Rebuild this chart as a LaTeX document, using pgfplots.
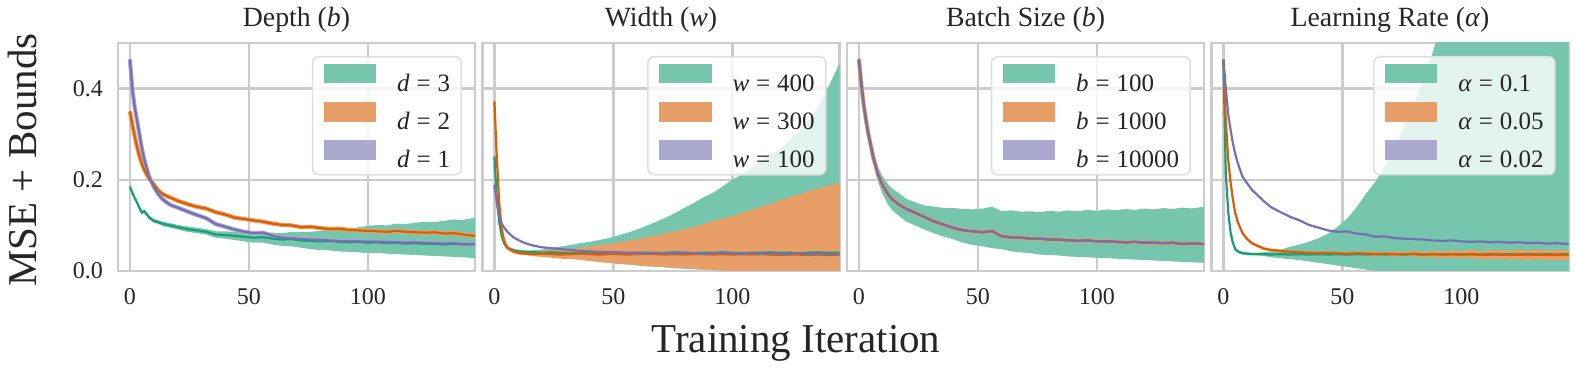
\documentclass[border=0pt]{standalone}
\usepackage{fontspec}
\setmainfont{Liberation Serif}
\usepackage{pgfplots}
\pgfplotsset{compat=1.18}
\usepackage{pgfplotstable}
\usepgfplotslibrary{fillbetween}

\definecolor{gline}{RGB}{27,158,119}
\definecolor{oline}{RGB}{217,95,2}
\definecolor{pline}{RGB}{117,112,179}
\definecolor{gfill}{RGB}{118,197,173}
\definecolor{ofill}{RGB}{232,159,103}
\definecolor{pfill}{RGB}{172,169,209}
\definecolor{txt}{RGB}{38,38,38}

% depth
\pgfplotstableread{
x g gl gh o p
0 0.185 0.181 0.189 0.350 0.464
1 0.172 0.168 0.176 0.322 0.400
2 0.160 0.156 0.164 0.296 0.360
3 0.150 0.146 0.154 0.272 0.330
4 0.138 0.134 0.142 0.252 0.300
5 0.128 0.124 0.132 0.236 0.270
6 0.131 0.127 0.135 0.222 0.245
8 0.118 0.114 0.122 0.203 0.208
10 0.110 0.106 0.114 0.190 0.185
12 0.107 0.103 0.111 0.176 0.168
14 0.103 0.098 0.108 0.168 0.156
17 0.100 0.095 0.105 0.161 0.145
20 0.096 0.091 0.101 0.154 0.139
24 0.092 0.086 0.098 0.147 0.131
28 0.089 0.083 0.095 0.141 0.123
32 0.086 0.080 0.092 0.137 0.116
36 0.080 0.073 0.087 0.129 0.103
40 0.079 0.071 0.087 0.124 0.097
44 0.077 0.068 0.086 0.117 0.091
48 0.075 0.065 0.085 0.114 0.086
52 0.073 0.062 0.084 0.111 0.083
56 0.074 0.062 0.086 0.108 0.084
60 0.071 0.058 0.084 0.104 0.077
64 0.069 0.055 0.083 0.101 0.073
68 0.070 0.054 0.086 0.100 0.072
72 0.067 0.051 0.085 0.096 0.070
76 0.066 0.048 0.086 0.097 0.069
80 0.065 0.046 0.088 0.094 0.068
84 0.066 0.045 0.091 0.092 0.067
88 0.064 0.043 0.090 0.093 0.066
92 0.063 0.042 0.092 0.090 0.066
96 0.064 0.041 0.096 0.089 0.065
100 0.062 0.039 0.099 0.088 0.065
104 0.063 0.040 0.101 0.087 0.064
108 0.061 0.038 0.100 0.086 0.064
112 0.062 0.037 0.104 0.088 0.063
116 0.060 0.036 0.103 0.086 0.062
120 0.061 0.035 0.106 0.085 0.063
124 0.059 0.034 0.108 0.084 0.062
128 0.060 0.033 0.107 0.085 0.061
132 0.058 0.032 0.110 0.082 0.060
136 0.060 0.031 0.113 0.083 0.061
140 0.058 0.030 0.112 0.080 0.059
145 0.059 0.028 0.117 0.077 0.059
}\tabA

% width
\pgfplotstableread{
x g gl gh o ol oh p
0 0.251 0.247 0.255 0.372 0.368 0.376 0.189
1 0.160 0.156 0.164 0.250 0.246 0.254 0.150
2 0.108 0.104 0.112 0.150 0.146 0.154 0.122
3 0.078 0.074 0.082 0.095 0.091 0.099 0.105
4 0.062 0.058 0.066 0.068 0.064 0.072 0.096
5 0.053 0.049 0.057 0.055 0.051 0.059 0.089
6 0.049 0.045 0.053 0.049 0.045 0.053 0.083
8 0.045 0.041 0.049 0.043 0.039 0.047 0.074
10 0.043 0.039 0.047 0.040 0.036 0.044 0.068
12 0.042 0.038 0.046 0.039 0.035 0.043 0.063
14 0.041 0.037 0.045 0.038 0.034 0.042 0.059
17 0.041 0.036 0.046 0.037 0.032 0.042 0.055
20 0.040 0.033 0.047 0.038 0.031 0.044 0.052
24 0.041 0.031 0.050 0.037 0.029 0.046 0.050
28 0.040 0.029 0.054 0.036 0.027 0.047 0.048
32 0.039 0.027 0.057 0.037 0.026 0.049 0.046
36 0.040 0.025 0.061 0.038 0.025 0.051 0.044
40 0.039 0.022 0.064 0.037 0.022 0.054 0.043
44 0.040 0.020 0.068 0.036 0.020 0.057 0.042
48 0.039 0.018 0.072 0.037 0.018 0.059 0.041
52 0.040 0.016 0.078 0.037 0.016 0.063 0.041
56 0.039 0.014 0.084 0.036 0.015 0.066 0.040
60 0.040 0.012 0.091 0.037 0.013 0.070 0.040
64 0.040 0.010 0.099 0.038 0.011 0.074 0.039
68 0.039 0.009 0.108 0.037 0.010 0.078 0.040
72 0.040 0.008 0.117 0.036 0.008 0.083 0.039
76 0.041 0.006 0.127 0.037 0.007 0.087 0.039
80 0.040 0.005 0.139 0.036 0.006 0.092 0.040
84 0.039 0.004 0.150 0.037 0.004 0.097 0.039
88 0.040 0.003 0.162 0.037 0.003 0.103 0.038
92 0.040 0.002 0.172 0.036 0.002 0.110 0.039
96 0.041 0.001 0.186 0.037 0.001 0.115 0.040
100 0.040 0.000 0.200 0.036 0.000 0.121 0.039
104 0.039 -0.001 0.212 0.037 -0.001 0.128 0.038
108 0.040 -0.002 0.226 0.036 -0.002 0.134 0.039
112 0.040 -0.003 0.240 0.037 -0.003 0.141 0.038
116 0.041 -0.004 0.255 0.036 -0.004 0.147 0.039
120 0.040 -0.005 0.268 0.035 -0.005 0.155 0.038
124 0.040 -0.006 0.287 0.036 -0.006 0.162 0.038
128 0.039 -0.007 0.305 0.036 -0.007 0.168 0.039
132 0.040 -0.008 0.330 0.035 -0.008 0.175 0.037
136 0.041 -0.009 0.360 0.036 -0.009 0.181 0.038
140 0.040 -0.010 0.400 0.035 -0.010 0.187 0.037
145 0.040 -0.012 0.455 0.036 -0.011 0.193 0.038
}\tabB

% batch size (the three means coincide)
\pgfplotstableread{
x m gl gh
0 0.464 0.462 0.466
1 0.410 0.406 0.414
2 0.365 0.359 0.371
3 0.330 0.322 0.338
4 0.300 0.291 0.309
5 0.275 0.264 0.286
6 0.250 0.238 0.262
8 0.212 0.196 0.228
10 0.188 0.168 0.207
12 0.170 0.148 0.192
14 0.157 0.133 0.181
17 0.145 0.120 0.170
20 0.136 0.108 0.158
24 0.127 0.099 0.150
28 0.117 0.090 0.143
32 0.108 0.082 0.141
36 0.101 0.075 0.138
40 0.094 0.069 0.138
44 0.089 0.062 0.136
48 0.087 0.057 0.135
52 0.085 0.054 0.137
56 0.088 0.050 0.141
60 0.076 0.048 0.131
64 0.074 0.043 0.133
68 0.073 0.041 0.130
72 0.071 0.039 0.131
76 0.071 0.036 0.129
80 0.069 0.035 0.132
84 0.069 0.034 0.130
88 0.067 0.032 0.133
92 0.066 0.031 0.131
96 0.067 0.030 0.134
100 0.065 0.029 0.132
104 0.065 0.028 0.135
108 0.064 0.027 0.133
112 0.063 0.026 0.136
116 0.064 0.025 0.134
120 0.062 0.024 0.137
124 0.062 0.023 0.135
128 0.061 0.022 0.138
132 0.062 0.021 0.136
136 0.059 0.020 0.139
140 0.061 0.019 0.137
145 0.059 0.018 0.141
}\tabC

% learning rate
\pgfplotstableread{
x g gl gh o ol oh p
0 0.464 0.462 0.466 0.464 0.462 0.466 0.464
1 0.215 0.212 0.218 0.330 0.327 0.333 0.400
2 0.130 0.127 0.133 0.245 0.242 0.248 0.345
3 0.085 0.082 0.088 0.195 0.192 0.198 0.310
4 0.061 0.058 0.064 0.156 0.153 0.159 0.280
5 0.048 0.045 0.051 0.126 0.123 0.129 0.256
6 0.043 0.040 0.046 0.108 0.105 0.111 0.237
8 0.039 0.036 0.042 0.083 0.080 0.086 0.207
10 0.038 0.035 0.041 0.070 0.067 0.073 0.192
12 0.037 0.034 0.040 0.061 0.058 0.064 0.178
14 0.037 0.034 0.040 0.056 0.053 0.059 0.168
17 0.037 0.033 0.041 0.049 0.046 0.052 0.153
20 0.036 0.030 0.043 0.046 0.043 0.049 0.140
24 0.037 0.028 0.047 0.044 0.041 0.047 0.129
28 0.036 0.026 0.053 0.042 0.039 0.045 0.119
32 0.037 0.024 0.058 0.041 0.038 0.044 0.111
36 0.036 0.021 0.064 0.040 0.037 0.043 0.101
40 0.037 0.018 0.072 0.039 0.036 0.042 0.095
44 0.036 0.015 0.082 0.040 0.037 0.043 0.089
48 0.037 0.012 0.097 0.039 0.036 0.042 0.086
52 0.036 0.009 0.115 0.038 0.035 0.041 0.087
56 0.037 0.006 0.140 0.039 0.035 0.043 0.082
60 0.036 0.003 0.170 0.038 0.034 0.042 0.080
64 0.037 0.000 0.197 0.037 0.033 0.041 0.075
68 0.036 -0.003 0.230 0.038 0.034 0.042 0.076
72 0.037 -0.006 0.268 0.037 0.032 0.042 0.072
76 0.036 -0.010 0.320 0.037 0.032 0.042 0.071
80 0.037 -0.014 0.365 0.038 0.032 0.044 0.070
84 0.036 -0.018 0.420 0.036 0.030 0.042 0.069
88 0.037 -0.022 0.480 0.037 0.030 0.044 0.067
92 0.036 -0.026 0.550 0.036 0.029 0.043 0.066
96 0.037 -0.030 0.630 0.037 0.029 0.045 0.067
100 0.036 -0.034 0.720 0.036 0.028 0.044 0.065
104 0.037 -0.038 0.820 0.037 0.028 0.046 0.064
108 0.036 -0.042 0.930 0.035 0.026 0.044 0.065
112 0.037 -0.046 1.050 0.036 0.026 0.046 0.063
116 0.036 -0.050 1.180 0.036 0.026 0.046 0.064
120 0.037 -0.054 1.320 0.035 0.025 0.045 0.062
124 0.036 -0.058 1.470 0.036 0.025 0.047 0.063
128 0.037 -0.062 1.630 0.035 0.024 0.046 0.061
132 0.036 -0.066 1.800 0.036 0.025 0.047 0.062
136 0.037 -0.070 1.980 0.035 0.024 0.046 0.060
140 0.036 -0.074 2.170 0.035 0.024 0.046 0.061
145 0.037 -0.078 2.400 0.035 0.024 0.046 0.059
}\tabD

\pgfplotsset{
  panel/.style={
    scale only axis, width=178.5pt, height=114pt, anchor=south west,
    xmin=-5, xmax=145, ymin=0, ymax=0.5,
    xtick={0,50,100}, ytick={0,0.2,0.4},
    yticklabels={0.0,0.2,0.4},
    grid=major, major grid style={draw=gray!40, line width=1.1pt},
    axis line style={draw=gray!40, line width=1.2pt},
    major tick length=0pt,
    /pgf/number format/assume math mode=true,
    tick label style={font=\fontsize{12}{12}\selectfont, text=txt},
    xticklabel style={yshift=-5pt},
    yticklabel style={xshift=-4pt},
    every axis title shift=0pt,
    title style={font=\fontsize{13.9}{14}\selectfont, text=txt, at={(0.5,1)}, anchor=base, yshift=8pt},
    legend style={at={(1,1)}, anchor=north east, xshift=-6.5pt, yshift=-6.5pt,
      font=\fontsize{12.5}{12.5}\selectfont, text=txt,
      draw=gray!25, line width=0.8pt, rounded corners=3pt,
      fill=white, fill opacity=0.8, text opacity=1, draw opacity=1,
      inner xsep=5.5pt, inner ysep=3.5pt, row sep=5.5pt,
      /tikz/every odd column/.append style={column sep=10.5pt},
      nodes={inner sep=0pt, text height=8.5pt, text depth=0pt},
      cells={anchor=west}},
  },
  mline/.style={line width=1.1pt, forget plot},
  halo/.style={line width=2.1pt, forget plot},
  gpatch/.style={legend image code/.code={\fill[gfill, sharp corners, fill opacity=1] (0pt,0pt) rectangle (25.5pt,9pt);}},
  opatch/.style={legend image code/.code={\fill[ofill, sharp corners, fill opacity=1] (0pt,0pt) rectangle (25.5pt,9pt);}},
  ppatch/.style={legend image code/.code={\fill[pfill, sharp corners, fill opacity=1] (0pt,0pt) rectangle (25.5pt,9pt);}},
}

\begin{document}
\begin{tikzpicture}

% ---- Depth
\begin{axis}[panel, at={(0pt,0pt)}, title={Depth (\textit{b})}]
\addplot[draw=none, name path=ah, forget plot] table[x=x,y=gh]{\tabA};
\addplot[draw=none, name path=al, forget plot] table[x=x,y=gl]{\tabA};
\addplot[gfill, forget plot] fill between[of=ah and al];
\addplot[halo, ofill] table[x=x,y=o]{\tabA};
\addplot[halo, pfill] table[x=x,y=p]{\tabA};
\addplot[mline, gline] table[x=x,y=g]{\tabA};
\addplot[mline, oline] table[x=x,y=o]{\tabA};
\addplot[mline, pline] table[x=x,y=p]{\tabA};
\addlegendimage{gpatch}\addlegendentry{\textit{d}\;=\;3}
\addlegendimage{opatch}\addlegendentry{\textit{d}\;=\;2}
\addlegendimage{ppatch}\addlegendentry{\textit{d}\;=\;1}
\end{axis}

% ---- Width
\begin{axis}[panel, at={(182.25pt,0pt)}, yticklabels={}, title={Width (\textit{w})}]
\addplot[draw=none, name path=bgh, forget plot] table[x=x,y=gh]{\tabB};
\addplot[draw=none, name path=bgl, forget plot] table[x=x,y=gl]{\tabB};
\addplot[gfill, forget plot] fill between[of=bgh and bgl];
\addplot[draw=none, name path=boh, forget plot] table[x=x,y=oh]{\tabB};
\addplot[draw=none, name path=bol, forget plot] table[x=x,y=ol]{\tabB};
\addplot[ofill, forget plot] fill between[of=boh and bol];
\addplot[mline, gline] table[x=x,y=g]{\tabB};
\addplot[mline, oline] table[x=x,y=o]{\tabB};
\addplot[mline, pline] table[x=x,y=p]{\tabB};
\addlegendimage{gpatch}\addlegendentry{\textit{w}\;=\;400}
\addlegendimage{opatch}\addlegendentry{\textit{w}\;=\;300}
\addlegendimage{ppatch}\addlegendentry{\textit{w}\;=\;100}
\end{axis}

% ---- Batch size
\begin{axis}[panel, at={(364.5pt,0pt)}, yticklabels={}, title={Batch Size (\textit{b})}]
\addplot[draw=none, name path=cgh, forget plot] table[x=x,y=gh]{\tabC};
\addplot[draw=none, name path=cgl, forget plot] table[x=x,y=gl]{\tabC};
\addplot[gfill, forget plot] fill between[of=cgh and cgl];
\addplot[halo, ofill] table[x=x,y=m]{\tabC};
\addplot[mline, gline] table[x=x,y=m]{\tabC};
\addplot[mline, oline] table[x=x,y=m]{\tabC};
\addplot[mline, pline] table[x=x,y=m]{\tabC};
\addlegendimage{gpatch}\addlegendentry{\textit{b}\;=\;100}
\addlegendimage{opatch}\addlegendentry{\textit{b}\;=\;1000}
\addlegendimage{ppatch}\addlegendentry{\textit{b}\;=\;10000}
\end{axis}

% ---- Learning rate
\begin{axis}[panel, at={(546.75pt,0pt)}, yticklabels={}, title={Learning Rate (\textit{α})}]
\addplot[draw=none, name path=dgh, forget plot] table[x=x,y=gh]{\tabD};
\addplot[draw=none, name path=dgl, forget plot] table[x=x,y=gl]{\tabD};
\addplot[gfill, forget plot] fill between[of=dgh and dgl];
\addplot[draw=none, name path=doh, forget plot] table[x=x,y=oh]{\tabD};
\addplot[draw=none, name path=dol, forget plot] table[x=x,y=ol]{\tabD};
\addplot[ofill, forget plot] fill between[of=doh and dol];
\addplot[mline, gline] table[x=x,y=g]{\tabD};
\addplot[mline, oline] table[x=x,y=o]{\tabD};
\addplot[mline, pline] table[x=x,y=p]{\tabD};
\addlegendimage{gpatch}\addlegendentry{\textit{α}\;=\;0.1}
\addlegendimage{opatch}\addlegendentry{\textit{α}\;=\;0.05}
\addlegendimage{ppatch}\addlegendentry{\textit{α}\;=\;0.02}
\end{axis}

\node[rotate=90, font=\fontsize{20.5}{20.5}\selectfont, text=txt] at (-48pt,55.5pt) {MSE + Bounds};
\node[font=\fontsize{20.5}{20.5}\selectfont, text=txt] at (339pt,-36pt) {Training Iteration};

\pgfresetboundingbox
\path[use as bounding box] (-59pt,-49pt) rectangle (729.5pt,135.5pt);
\end{tikzpicture}
\end{document}
